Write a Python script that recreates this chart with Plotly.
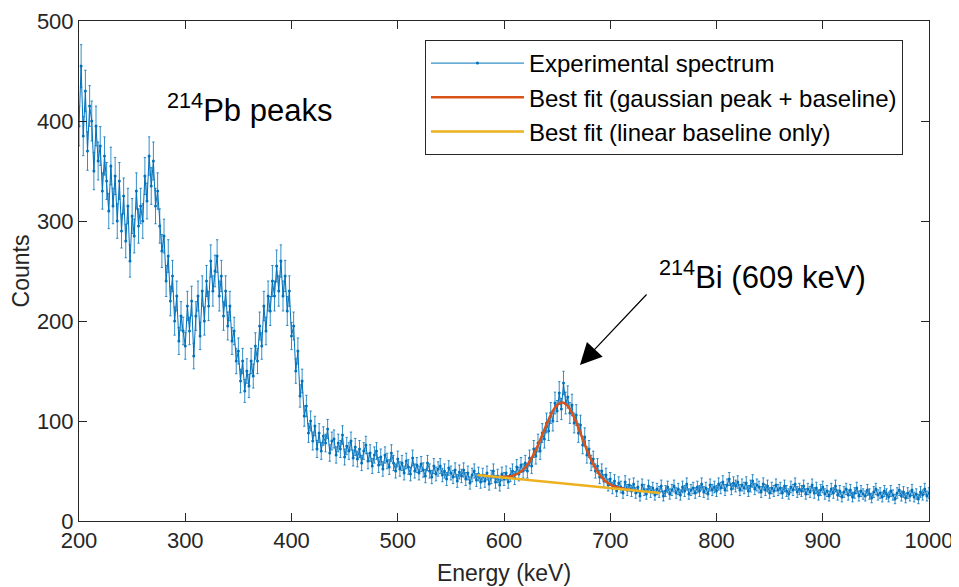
import numpy as np
import plotly.graph_objects as go

# Spectrum channels, 2 keV apart (200 ... 1000 keV)
energy_kev = np.arange(200, 1001, 2)
counts = [
    395, 455, 385, 430, 370, 415, 400, 350, 395, 360,
    375, 330, 365, 340, 310, 355, 315, 345, 300, 340,
    290, 325, 280, 315, 260, 305, 285, 330, 295, 315,
    300, 345, 320, 365, 335, 360, 315, 330, 295, 270,
    285, 240, 265, 220, 245, 200, 225, 180, 205, 190,
    175, 215, 190, 220, 165, 205, 225, 185, 230, 200,
    240, 215, 260, 230, 250, 265, 225, 245, 205, 230,
    195, 215, 180, 190, 160, 170, 140, 160, 130, 150,
    135, 160, 145, 175, 160, 195, 175, 215, 190, 225,
    210, 240, 225, 255, 230, 260, 225, 245, 210, 230,
    185, 195, 150, 170, 125, 140, 105, 115, 88, 100,
    80, 95, 72, 88, 70, 85, 78, 92, 68, 80,
    82, 66, 78, 72, 86, 64, 75, 70, 80, 63,
    74, 62, 72, 58, 70, 76, 60, 68, 55, 66,
    70, 56, 64, 52, 66, 60, 54, 68, 58, 50,
    62, 52, 58, 48, 60, 54, 47, 63, 50, 56,
    48, 57, 51, 45, 58, 50, 44, 55, 47, 52,
    55, 46, 50, 42, 53, 48, 44, 51, 40, 49,
    45, 51, 42, 48, 38, 46, 50, 41, 47, 39,
    46, 40, 48, 37, 44, 50, 39, 45, 36, 47,
    42, 48, 39, 46, 50, 43, 54, 47, 56, 50,
    58, 50, 63, 55, 72, 65, 78, 70, 88, 82,
    98, 90, 108, 100, 118, 110, 128, 112, 138, 118,
    124, 108, 116, 98, 106, 88, 96, 76, 84, 66,
    72, 58, 62, 50, 55, 44, 50, 40, 46, 36,
    42, 33, 40, 30, 38, 34, 28, 39, 31, 36,
    30, 37, 28, 34, 25, 36, 31, 27, 35, 29,
    33, 26, 32, 29, 35, 25, 30, 34, 27, 31,
    35, 28, 32, 26, 34, 30, 37, 27, 31, 33,
    28, 34, 30, 37, 29, 33, 27, 36, 31, 34,
    30, 37, 33, 39, 31, 36, 42, 32, 38, 35,
    39, 31, 36, 33, 38, 30, 35, 40, 32, 36,
    34, 29, 37, 31, 35, 28, 33, 30, 36, 31,
    33, 28, 35, 30, 27, 34, 31, 37, 29, 32,
    30, 35, 27, 32, 29, 36, 28, 33, 26, 31,
    34, 27, 30, 25, 32, 28, 35, 26, 30, 24,
    29, 32, 26, 31, 24, 28, 33, 25, 30, 27,
    25, 31, 27, 23, 29, 32, 26, 28, 24, 30,
    27, 24, 30, 26, 22, 28, 31, 25, 29, 23,
    28, 25, 31, 24, 27, 22, 29, 26, 32, 25,
    28,
]

# Best fit: gaussian peak + baseline, every 5 keV
fit_energy = np.arange(595, 721, 5)
fit_counts = [
    44.2, 44.2, 44.5, 45.9, 48.7, 53.5, 61.0, 71.1, 83.4, 96.5,
    108.1, 116.0, 118.6, 115.0, 106.0, 93.3, 79.2, 65.9, 54.7, 46.2,
    40.3, 36.5, 34.1, 32.7, 31.6, 30.9,
]

# Best fit: linear baseline only (end points)
base_energy = [575, 747]
base_counts = [46, 28]

BLUE = "#0072BD"
ORANGE = "#D95319"
YELLOW = "#EDB120"
AXIS = "#262626"
FONT = "Liberation Sans, Arial, sans-serif"

fig = go.Figure()

fig.add_trace(go.Scatter(
    x=energy_kev, y=counts,
    mode="lines+markers", name="Experimental spectrum",
    line=dict(color=BLUE, width=1),
    marker=dict(color=BLUE, size=3),
    error_y=dict(type="sqrt", color=BLUE, thickness=0.8, width=1.2),
))
fig.add_trace(go.Scatter(
    x=fit_energy, y=fit_counts,
    mode="lines", name="Best fit (gaussian peak + baseline)",
    line=dict(color=ORANGE, width=2.5, shape="spline"),
))
fig.add_trace(go.Scatter(
    x=base_energy, y=base_counts,
    mode="lines", name="Best fit (linear baseline only)",
    line=dict(color=YELLOW, width=2.5),
))

fig.add_annotation(
    x=281, y=413, xref="x", yref="y",
    text="<sup>214</sup>Pb peaks", showarrow=False,
    xanchor="left", yanchor="middle",
    font=dict(size=31, color="black", family=FONT),
)
fig.add_annotation(
    x=744, y=246, xref="x", yref="y",
    text="<sup>214</sup>Bi (609 keV)", showarrow=False,
    xanchor="left", yanchor="middle",
    font=dict(size=31, color="black", family=FONT),
)
fig.add_annotation(
    x=671.5, y=156, xref="x", yref="y",
    ax=735.5, ay=228, axref="x", ayref="y",
    text="", showarrow=True,
    arrowhead=2, arrowsize=3.6, arrowwidth=1.2, arrowcolor="black",
)

axis_common = dict(
    showline=True, linecolor=AXIS, linewidth=1, mirror="ticks",
    ticks="inside", ticklen=8, tickcolor=AXIS,
    showgrid=False, zeroline=False, automargin=False,
    tickfont=dict(size=22, color=AXIS, family=FONT),
)

fig.update_xaxes(
    range=[200, 1000], dtick=100, tick0=200,
    title=dict(text="Energy (keV)", font=dict(size=23, color=AXIS, family=FONT), standoff=12),
    **axis_common,
)
fig.update_yaxes(
    range=[0, 500], dtick=100,
    title=dict(text="Counts", font=dict(size=23, color=AXIS, family=FONT), standoff=4),
    **axis_common,
)

# page body adds an 8px offset, so the figure is 8px smaller than the window
fig.update_layout(
    width=951, height=579,
    margin=dict(l=71, r=30, t=13, b=66),
    plot_bgcolor="white", paper_bgcolor="white",
    font=dict(family=FONT, color=AXIS),
    legend=dict(
        x=0.407, y=0.962, xanchor="left", yanchor="top",
        bordercolor=AXIS, borderwidth=1, bgcolor="white",
        font=dict(size=24, color="black", family=FONT),
        itemwidth=93,
    ),
)

fig.write_html("out.html")
